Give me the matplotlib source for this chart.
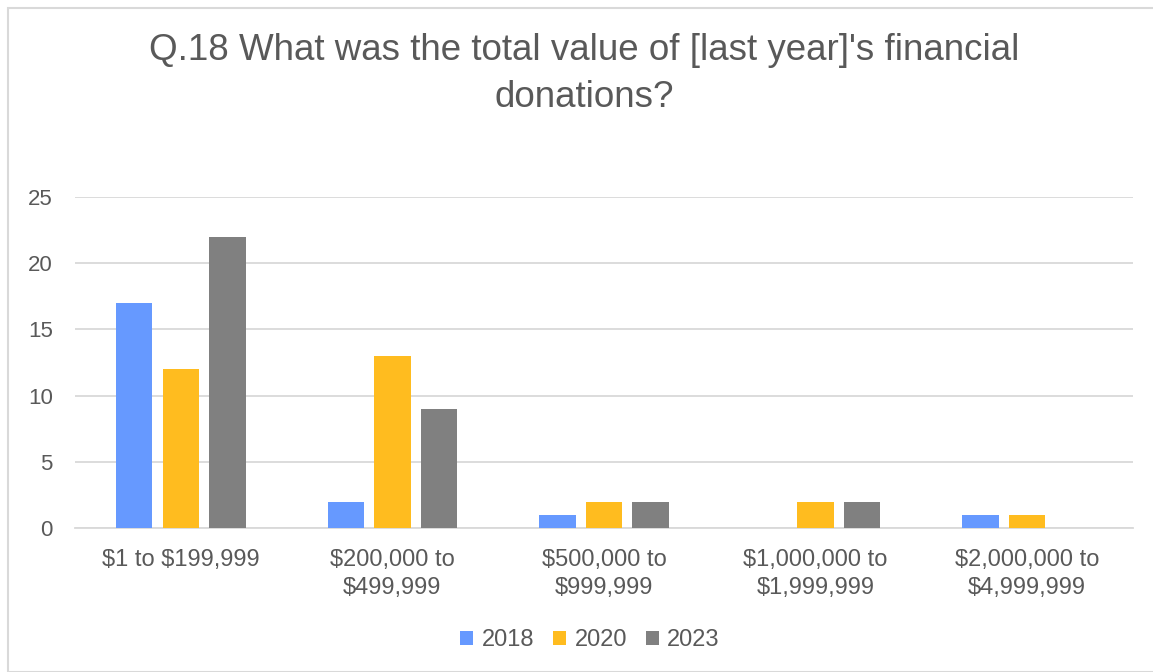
import numpy as np
import matplotlib.pyplot as plt
from matplotlib.patches import Rectangle

categories = ['$1 to $199,999', '$200,000 to\n$499,999', '$500,000 to\n$999,999',
              '$1,000,000 to\n$1,999,999', '$2,000,000 to\n$4,999,999']
years = ['2018', '2020', '2023']
v2018 = [17, 2, 1, 0, 1]
v2020 = [12, 13, 2, 2, 1]
v2023 = [22, 9, 2, 2, 0]
colors = ['#6699FF', '#FFBC1F', '#808080']

plt.rcParams['font.family'] = ['Liberation Sans', 'DejaVu Sans']
plt.rcParams['text.parse_math'] = False
text_color = '#595959'

fig = plt.figure(figsize=(11.53, 6.72), dpi=100)
fig.patches.append(Rectangle((8 / 1153, 0), 1.2, 1 - 8 / 672, transform=fig.transFigure,
                             fill=False, edgecolor='#D9D9D9', linewidth=1.5))

ax = fig.add_axes([75 / 1153, 1 - 528 / 672, 1058 / 1153, (528 - 197) / 672])

x = np.arange(len(categories))
step = 0.22
width = 0.172
for i, (vals, year) in enumerate(zip([v2018, v2020, v2023], years)):
    ax.bar(x + (i - 1) * step, vals, width, color=colors[i], label=year, zorder=3)

ax.set_xlim(-0.5, len(categories) - 0.5)
ax.set_ylim(0, 25)
ax.set_yticks(range(0, 26, 5))
ax.grid(axis='y', color='#D9D9D9', linewidth=1.3, zorder=0)
ax.set_xticks(x)
ax.set_xticklabels(categories, fontsize=17, color=text_color, linespacing=1.38)
ax.tick_params(axis='y', labelsize=16, labelcolor=text_color, length=0, pad=16)
ax.tick_params(axis='x', length=0, pad=15)
for s in ['top', 'right', 'left']:
    ax.spines[s].set_visible(False)
ax.spines['bottom'].set_color('#D9D9D9')
ax.spines['bottom'].set_linewidth(1.3)

fig.text(584 / 1153, 1 - 74 / 672, "Q.18 What was the total value of [last year]'s financial\ndonations?",
         ha='center', va='center', fontsize=26.5, color=text_color, linespacing=1.42)

fig.legend(loc='center', bbox_to_anchor=(590 / 1153, 1 - 640 / 672), ncol=3, frameon=False,
           fontsize=17, labelcolor=text_color, handlelength=0.55, handleheight=0.55,
           handletextpad=0.35, columnspacing=0.8)

fig.savefig('out.png', dpi=100)
